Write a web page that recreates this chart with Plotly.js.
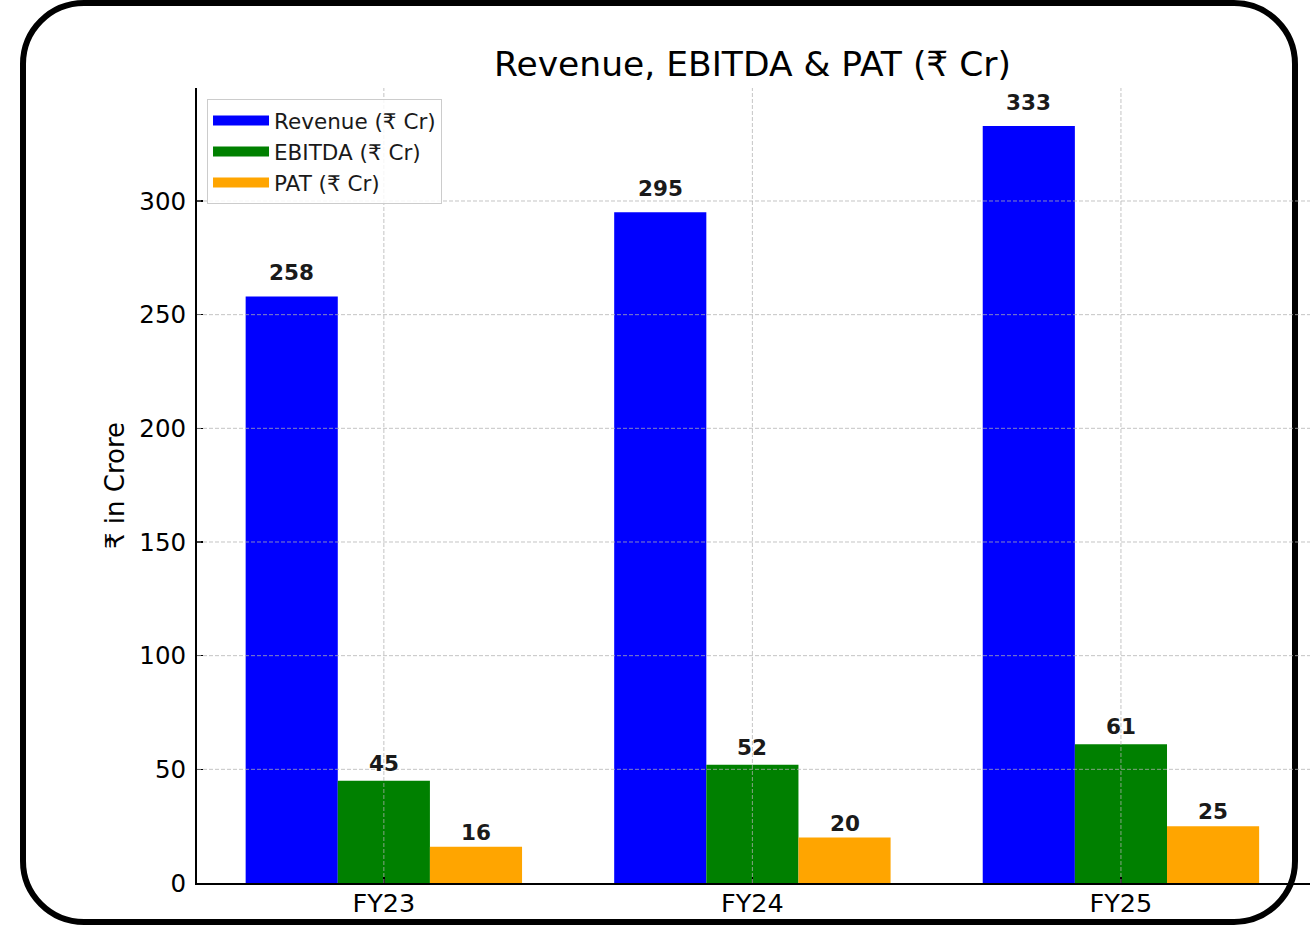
<!DOCTYPE html>
<html>
<head>
<meta charset="utf-8">
<script src="https://cdn.plot.ly/plotly-3.0.1.min.js"></script>
<style>
  html, body { margin:0; padding:0; background:#fff; }
  #wrap { position:relative; width:1314px; height:942px; }
  #frame { position:absolute; left:20px; top:0px; width:1266px; height:913px;
           border:6px solid #000; border-radius:64px; box-sizing:content-box; }
  #chart { position:absolute; left:0; top:0; width:1314px; height:942px; }
</style>
</head>
<body>
<div id="wrap">
  <div id="frame"></div>
  <div id="chart"></div>
</div>
<script>
const categories = ["FY23", "FY24", "FY25"];
const revenue = [258, 295, 333];
const ebitda = [45, 52, 61];
const pat = [16, 20, 25];
const seriesNames = ["Revenue (₹ Cr)", "EBITDA (₹ Cr)", "PAT (₹ Cr)"];
const seriesColors = ["#0000ff", "#008000", "#ffa500"];
const yTicks = [0, 50, 100, 150, 200, 250, 300];

const font = "DejaVu Sans, Verdana, sans-serif";
const seriesValues = [revenue, ebitda, pat];

// layout geometry (style)
const W = 1314, H = 942;
const M = { l: 197, r: 4, t: 88, b: 59 };
const xRange = [-0.507, 2.513];
const bargap = 0.25;
const labelLift = [9, 3, 0];

const plotW = W - M.l - M.r;
const catPx = plotW / (xRange[1] - xRange[0]);
const barPx = catPx * (1 - bargap) / seriesValues.length;

const bars = seriesValues.map((vals, i) => ({
  type: "bar",
  name: seriesNames[i],
  x: categories,
  y: vals,
  marker: { color: seriesColors[i], line: { width: 0 } },
  showlegend: false,
  hoverinfo: "skip"
}));

// legend swatches (wide rectangles like the reference)
const legendItems = seriesNames.map((n, i) => ({
  type: "scatter",
  mode: "lines",
  name: n,
  x: [null], y: [null],
  line: { color: seriesColors[i], width: 15 },
  legendgroup: "g" + i,
  showlegend: true,
  hoverinfo: "skip"
}));

const annotations = [];
seriesValues.forEach((vals, i) => {
  vals.forEach((v, j) => {
    annotations.push({
      x: categories[j], y: v, xref: "x", yref: "y",
      xshift: (i - (seriesValues.length - 1) / 2) * barPx,
      yshift: labelLift[i],
      yanchor: "bottom", xanchor: "center",
      showarrow: false,
      text: String(v),
      font: { family: font, size: 21.5, color: "#1a1a1a", weight: "bold" }
    });
  });
});

const gridStyle = { color: "rgba(176,176,176,0.75)", width: 1, dash: "4px,2px" };
const shapes = [];
yTicks.filter(t => t > 0).forEach(t => {
  shapes.push({ type: "line", layer: "above", xref: "paper", yref: "y",
    x0: 0, x1: 1, y0: t, y1: t, line: gridStyle });
});
categories.forEach(c => {
  shapes.push({ type: "line", layer: "above", xref: "x", yref: "paper",
    x0: c, x1: c, y0: 0, y1: 1, line: gridStyle });
});

const layout = {
  width: W, height: H,
  paper_bgcolor: "rgba(0,0,0,0)",
  plot_bgcolor: "rgba(0,0,0,0)",
  margin: M,
  font: { family: font, color: "#000" },
  title: {
    text: "Revenue, EBITDA & PAT (₹ Cr)",
    font: { family: font, size: 34.5, color: "#000" },
    x: 0.5727, xanchor: "center", y: 0.932, yanchor: "middle"
  },
  barmode: "group",
  bargap: bargap,
  bargroupgap: 0,
  showlegend: true,
  legend: {
    x: 0.009, y: 0.986, xanchor: "left", yanchor: "top",
    bgcolor: "rgba(255,255,255,0.85)",
    bordercolor: "#cccccc", borderwidth: 1,
    font: { family: font, size: 21.5, color: "#1a1a1a" },
    itemwidth: 56,
    tracegroupgap: 4,
    traceorder: "normal"
  },
  xaxis: {
    type: "category",
    range: xRange,
    showline: true, linecolor: "#000", linewidth: 2,
    ticks: "inside", ticklen: 6, tickcolor: "#000", tickwidth: 1.5,
    tickfont: { family: font, size: 25.5, color: "#000" },
    ticklabelstandoff: -4,
    showgrid: false,
    zeroline: false,
    layer: "above traces"
  },
  yaxis: {
    range: [0, 349.7],
    tickvals: yTicks,
    ticktext: yTicks.map(String),
    showline: true, linecolor: "#000", linewidth: 2,
    ticks: "inside", ticklen: 6, tickcolor: "#000", tickwidth: 1.5,
    tickfont: { family: font, size: 24.5, color: "#000" },
    ticklabelstandoff: 4,
    showgrid: false,
    zeroline: false,
    title: { text: "₹ in Crore", font: { family: font, size: 26, color: "#000" }, standoff: 7 },
    layer: "above traces"
  },
  annotations: annotations,
  shapes: shapes
};

Plotly.newPlot("chart", bars.concat(legendItems), layout, { displayModeBar: false, staticPlot: true });
</script>
</body>
</html>
